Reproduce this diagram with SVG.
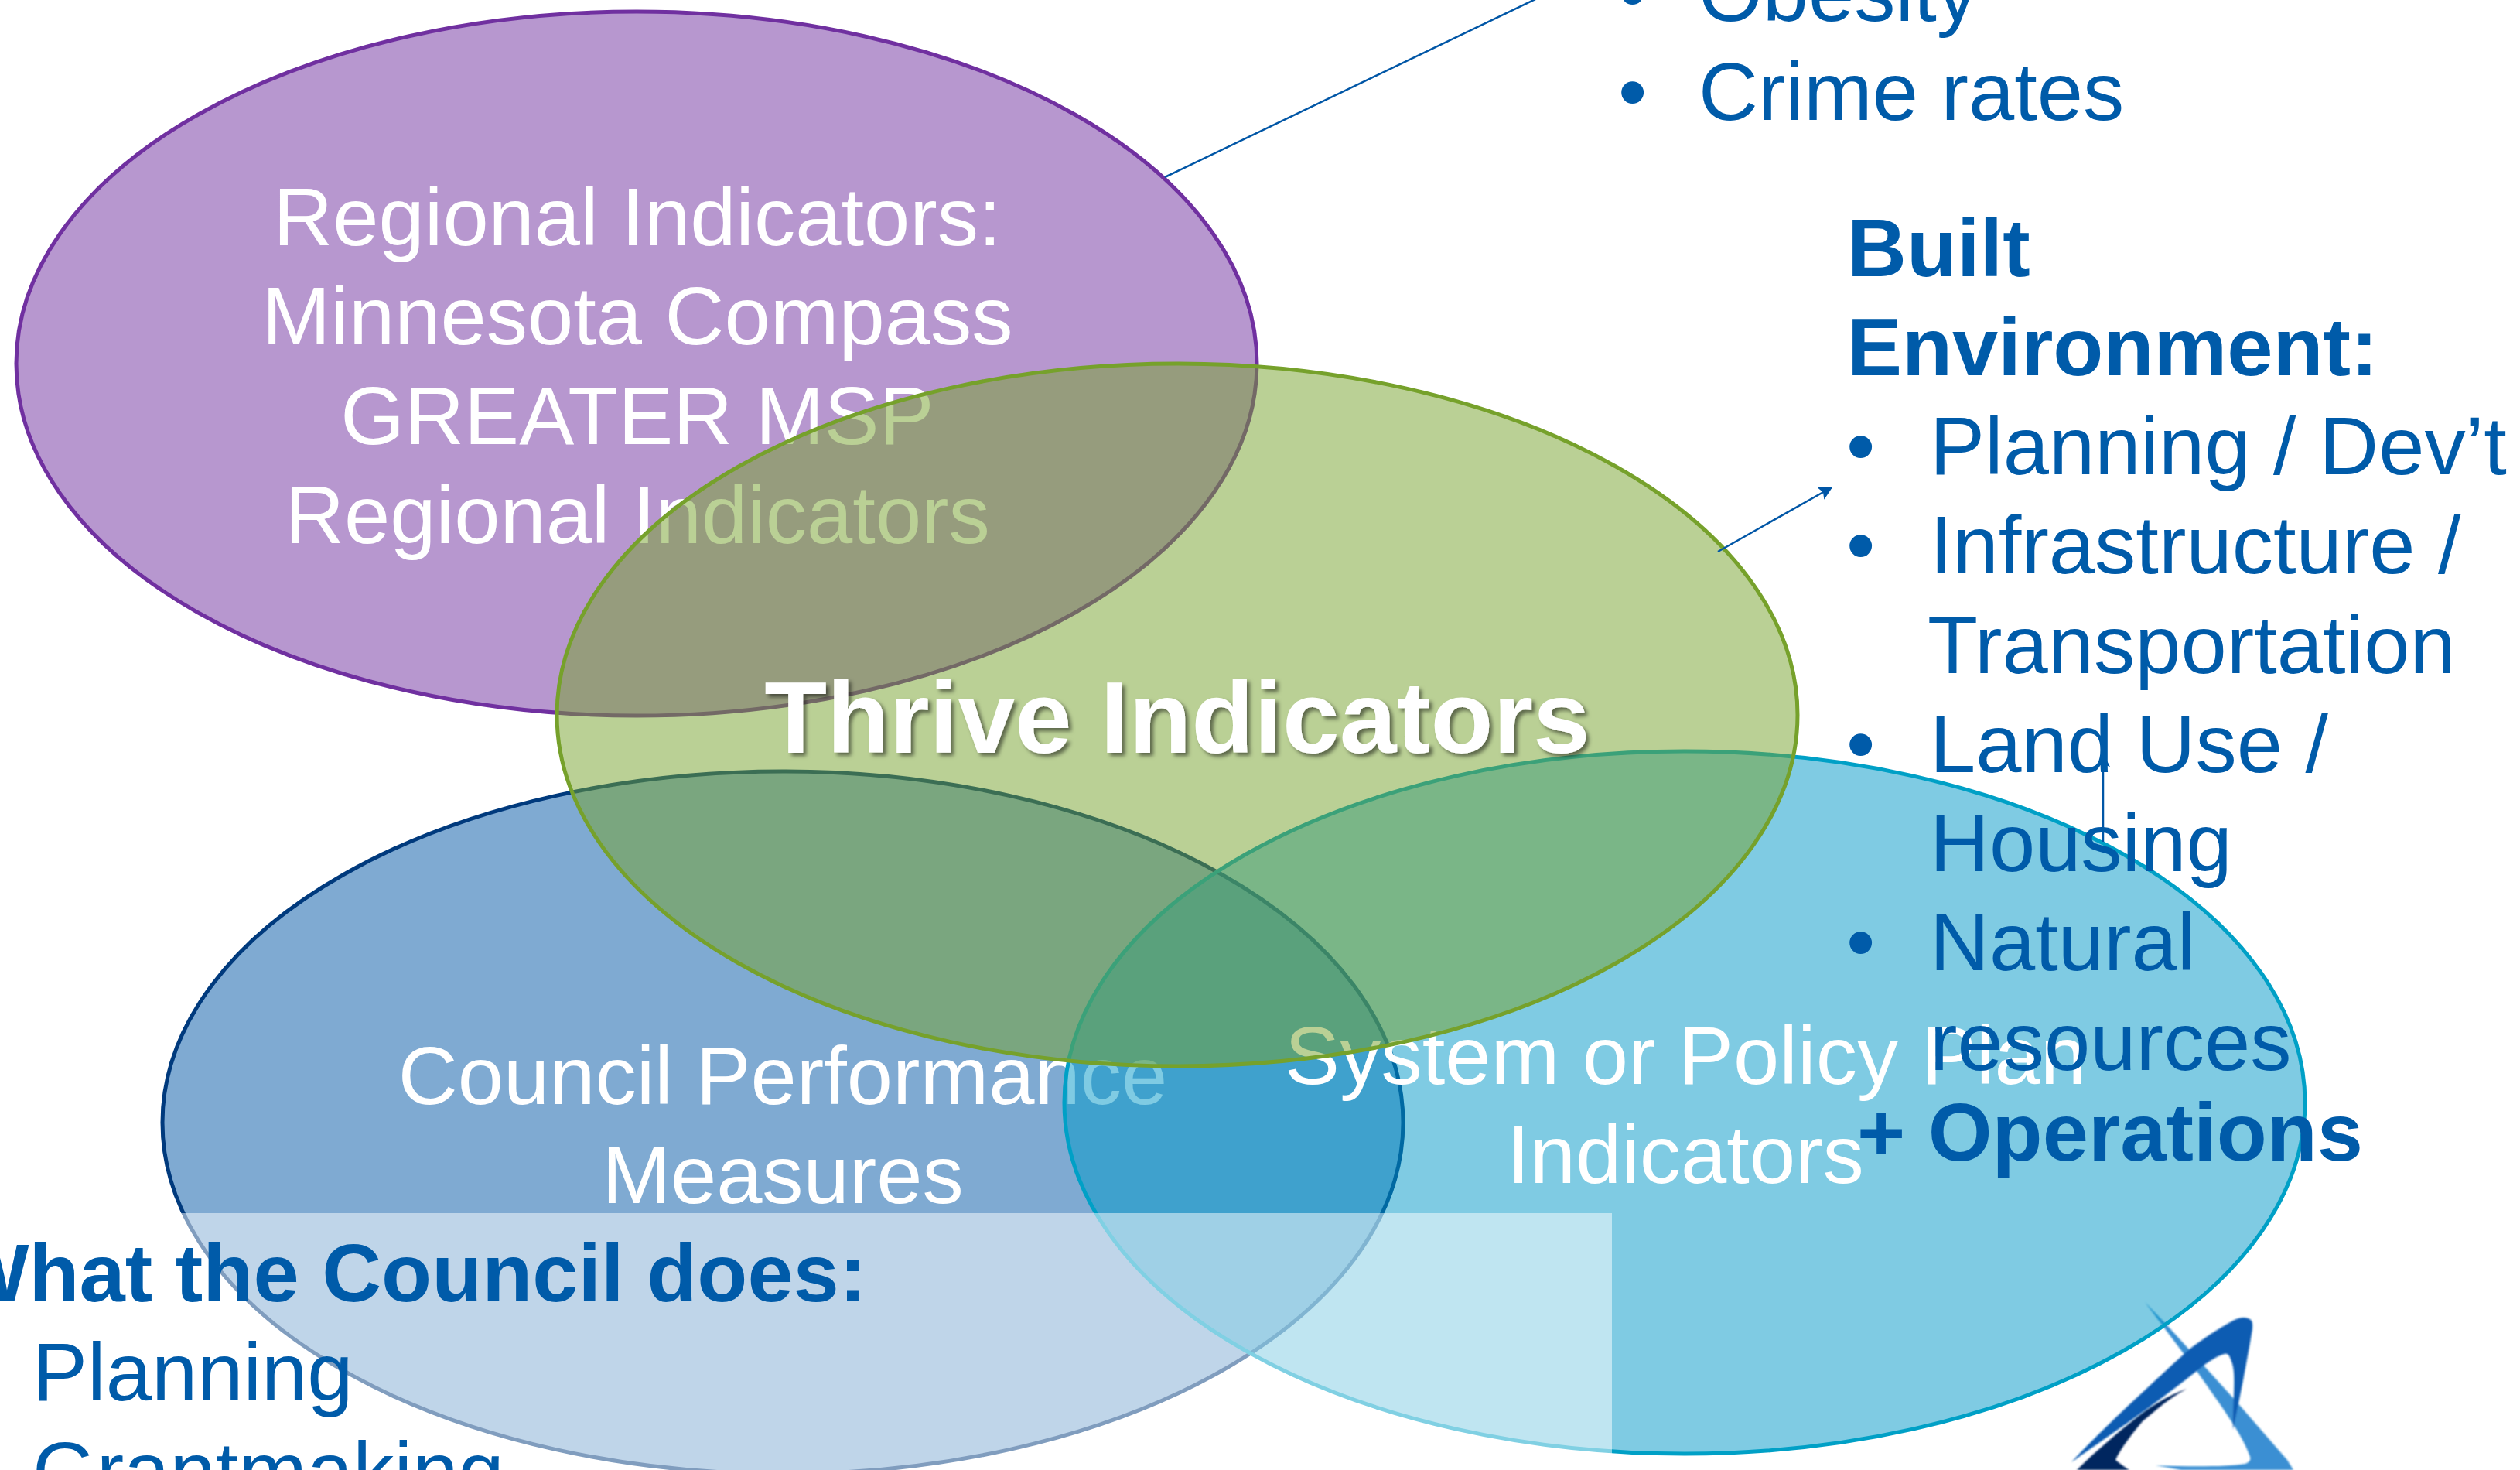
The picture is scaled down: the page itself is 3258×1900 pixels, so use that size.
<svg xmlns="http://www.w3.org/2000/svg" width="3258" height="1900" viewBox="0 0 3258 1900">
<style>
text{font-family:"Liberation Sans",Arial,sans-serif;font-size:106.5px}
.w{fill:#fff;text-anchor:middle}
.b{fill:#005ba9}
.h{font-weight:bold}
ellipse{stroke-width:5}
.line{fill:none;stroke:#0056a6;stroke-width:2.5}
</style>
<defs>
<marker id="arrow" viewBox="0 0 10 10" refX="9" refY="5" markerWidth="18" markerHeight="18" markerUnits="userSpaceOnUse" orient="auto"><path d="M0 0L10 5L0 10L2 5Z" fill="#0056a6"/></marker>
<filter id="shadow" x="-5%" y="-20%" width="110%" height="140%"><feDropShadow dx="4" dy="4" stdDeviation="2.5" flood-color="#000" flood-opacity=".5"/></filter>
<filter id="soft" x="-5%" y="-5%" width="110%" height="110%"><feGaussianBlur stdDeviation="0.8"/></filter>
</defs>
<rect width="3258" height="1900" fill="#fff"/>
<g id="logo" filter="url(#soft)">
<path d="M2773 1683L2800 1711L2890 1810L2957 1887L2965 1900L2820 1900L2787 1894C2830 1896 2880 1896 2903 1892C2909 1890 2910 1886 2909 1883C2900 1855 2870 1815 2840 1772Z" fill="#3a8fd3"/>
<path d="M2887 1707C2896 1702 2905 1702 2910 1706C2913 1709 2912 1715 2912 1718C2905 1760 2895 1810 2887 1848C2886 1815 2892 1775 2885 1760C2883 1752 2880 1749 2876 1750C2864 1753 2850 1764 2840 1772C2780 1820 2720 1860 2678 1890C2720 1845 2780 1790 2827 1747C2845 1732 2870 1716 2887 1707Z" fill="#0a5cb2"/>
<path d="M2827 1795C2800 1810 2785 1825 2770 1837C2755 1855 2742 1872 2735 1887C2741 1892 2748 1897 2753 1900L2685 1900C2710 1875 2740 1850 2765 1830C2785 1815 2805 1803 2827 1795Z" fill="#03265f"/>
</g>
<g id="node-purple">
<ellipse cx="823" cy="470" rx="802" ry="455" fill="#7030a0" fill-opacity=".5" stroke="#7030a0"/>
<text class="w" x="824" y="317">Regional Indicators:</text>
<text class="w" x="824" y="445">Minnesota Compass</text>
<text class="w" x="824" y="574">GREATER MSP</text>
<text class="w" x="824" y="702">Regional Indicators</text>
</g>
<g id="node-blue">
<ellipse cx="1012" cy="1451" rx="802" ry="454" fill="#0055a5" fill-opacity=".5" stroke="#003a7d"/>
<text class="w" x="1012" y="1427">Council Performance</text>
<text class="w" x="1012" y="1555">Measures</text>
</g>
<g id="node-teal">
<ellipse cx="2178" cy="1425" rx="802" ry="454" fill="#0098c8" fill-opacity=".5" stroke="#00a0c6"/>
<text class="w" x="2179" y="1401">System or Policy Plan</text>
<text class="w" x="2179" y="1529">Indicators</text>
</g>
<g id="node-green">
<ellipse cx="1522" cy="924" rx="802" ry="454" fill="#76a12b" fill-opacity=".5" stroke="#76a12b"/>
<text class="w h" x="1522" y="973" style="font-size:132.5px" filter="url(#shadow)">Thrive Indicators</text>
</g>
<g id="connectors">
<line class="line" x1="1506" y1="229" x2="2010" y2="-13"/>
<line class="line" x1="2221" y1="713" x2="2368" y2="630" marker-end="url(#arrow)"/>
<line class="line" x1="2719" y1="1088" x2="2719" y2="975" marker-end="url(#arrow)"/>
</g>
<g id="text-impacts">
<text class="b" x="2092" y="27">•</text><text class="b" x="2196" y="27">Obesity</text>
<text class="b" x="2092" y="155">•</text><text class="b" x="2196" y="155">Crime rates</text>
</g>
<g id="text-built">
<text class="b h" x="2388" y="357">Built</text>
<text class="b h" x="2388" y="485">Environment:</text>
<text class="b" x="2387" y="613">•</text><text class="b" x="2495" y="613">Planning / Dev’t</text>
<text class="b" x="2387" y="741">•</text><text class="b" x="2495" y="741">Infrastructure /</text>
<text class="b" x="2492" y="870">Transportation</text>
<text class="b" x="2387" y="998">•</text><text class="b" x="2495" y="998">Land Use /</text>
<text class="b" x="2495" y="1126">Housing</text>
<text class="b" x="2387" y="1254">•</text><text class="b" x="2495" y="1254">Natural</text>
<text class="b" x="2495" y="1383">resources</text>
<text class="b h" x="2401" y="1500">+ Operations</text>
</g>
<g id="overlay">
<rect x="0" y="1568" width="2084" height="332" fill="#fff" fill-opacity=".5"/>
</g>
<g id="text-council">
<text class="b h" x="-63" y="1682">What the Council does:</text>
<text class="b" x="42" y="1810">Planning</text>
<text class="b" x="42" y="1938">Grantmaking</text>
</g>
</svg>
